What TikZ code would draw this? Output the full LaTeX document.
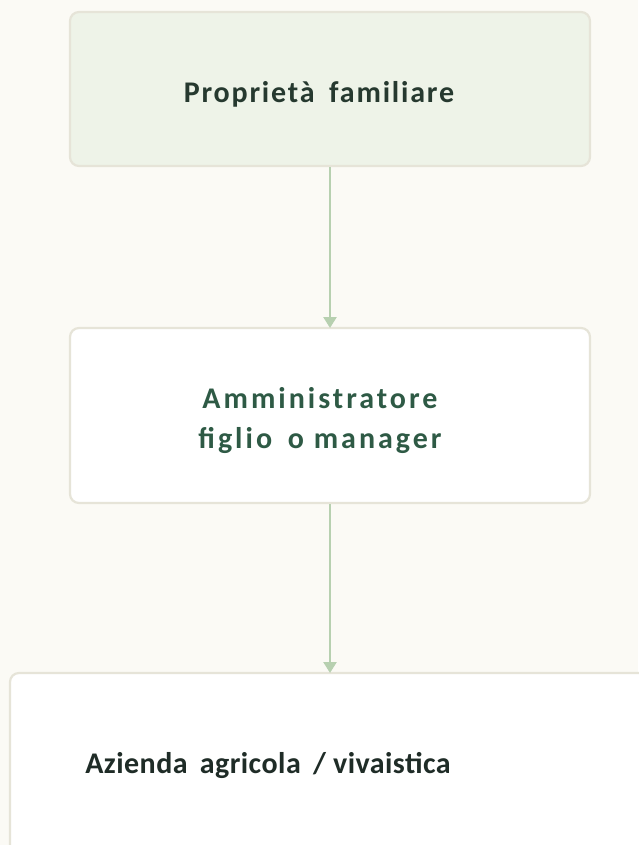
\documentclass[tikz,border=0pt]{standalone}
\usepackage{fontspec}
\setmainfont{Carlito}
\newfontfamily\fonta[LetterSpace=6]{Carlito}
\newfontfamily\fontb[LetterSpace=10]{Carlito}
\newfontfamily\fontc[LetterSpace=1.5]{Carlito}
\usetikzlibrary{arrows.meta}
\definecolor{bg}{HTML}{FBFAF5}
\definecolor{boxline}{HTML}{E6E4D8}
\definecolor{topfill}{HTML}{EEF3E8}
\definecolor{txtgreen}{HTML}{2E5A45}
\definecolor{txtdark}{HTML}{26392F}
\definecolor{txtdarker}{HTML}{1F2C27}
\definecolor{arrowc}{HTML}{B7D0B0}
\tikzset{
  box/.style={draw=boxline, line width=2.2pt, rounded corners=9pt},
  lbl/.style={font=\bfseries\fontsize{30}{40}\selectfont, inner sep=0pt, anchor=base},
  conn/.style={draw=arrowc, line width=2.5pt, -{Triangle[length=11pt,width=13pt]}}
}
\begin{document}
\begin{tikzpicture}[x=1pt,y=-1pt]
\fill[bg] (0,0) rectangle (638,845);
\useasboundingbox (0,0) rectangle (638,845);
\draw[box, fill=topfill] (70,12) rectangle (590,166);
\draw[box, fill=white] (70,328) rectangle (590,503);
\draw[box, fill=white] (10,673) rectangle (660,870);
\coordinate (b1s) at (330,167);
\coordinate (b2n) at (330,328);
\coordinate (b2s) at (330,504);
\coordinate (b3n) at (330,673);
\node[lbl, text=txtdark] (t1) at (319,103) {\fonta\bfseries Proprietà\hspace{6pt} familiare};
\node[lbl, text=txtgreen] (t2a) at (320,408) {\fontb\bfseries Amministratore};
\node[lbl, text=txtgreen] (t2b) at (320,448) {\fontb\bfseries figlio\hspace{6pt} o manager};
\node[lbl, text=txtdarker] (t3) at (268,773) {\fontc\bfseries Azienda\hspace{5pt} agricola\hspace{5pt} / vivaistica};
\draw[conn] (b1s) -- (b2n);
\draw[conn] (b2s) -- (b3n);
\end{tikzpicture}
\end{document}
